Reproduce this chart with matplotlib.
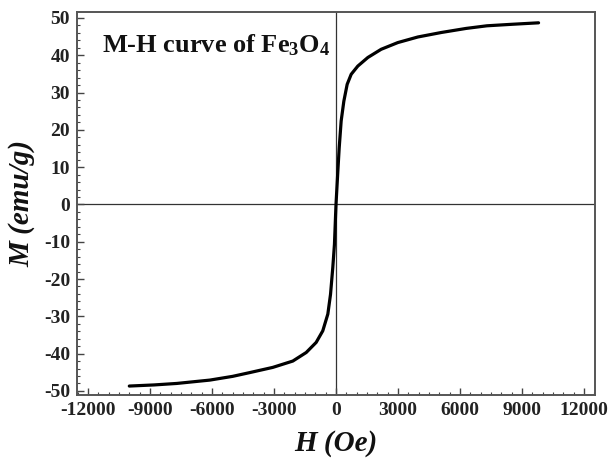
import matplotlib
matplotlib.use("Agg")
import matplotlib.pyplot as plt
from matplotlib.ticker import MultipleLocator

plt.rcParams['font.family'] = ['Liberation Serif', 'DejaVu Serif']
plt.rcParams['axes.unicode_minus'] = False
plt.rcParams['mathtext.fontset'] = 'custom'
plt.rcParams['mathtext.rm'] = 'Liberation Serif:bold'
plt.rcParams['mathtext.bf'] = 'Liberation Serif:bold'
plt.rcParams['mathtext.it'] = 'Liberation Serif:bold:italic'

# data
H = [-10000, -8800, -7700, -6100, -5000, -4180, -3060, -2090, -1440, -960, -640,
     -395, -265, -155, -75, -25, 0, 90, 155, 250, 380, 540, 735, 1055, 1540,
     2185, 2990, 3960, 5090, 6300, 7300, 8500, 9800]
M = [-48.7, -48.4, -48.0, -47.1, -46.1, -45.1, -43.7, -42.0, -39.7, -37.0, -33.9,
     -29.4, -24.1, -16.9, -10.7, -3.5, 0.0, 9.0, 15.2, 22.4, 27.7, 32.2, 34.9, 37.1, 39.4,
     41.6, 43.4, 44.9, 46.1, 47.2, 47.9, 48.3, 48.7]
x_ticks = [-12000, -9000, -6000, -3000, 0, 3000, 6000, 9000, 12000]
y_ticks = [-50, -40, -30, -20, -10, 0, 10, 20, 30, 40, 50]

fig = plt.figure(figsize=(6.14, 4.70), dpi=100)
ax = fig.add_axes([77/614, 1-395/470, (595-77)/614, (395-12)/470])

ax.axhline(0, color='#333333', lw=0.9, zorder=1)
ax.axvline(0, color='#333333', lw=0.9, zorder=1)
ax.plot(H, M, color='black', lw=2.3, zorder=3, solid_capstyle='round', solid_joinstyle='round')

ax.set_xlim(-12530, 12530)
ax.set_ylim(-51.1, 51.6)
ax.set_xticks(x_ticks)
ax.set_yticks(y_ticks)
ax.xaxis.set_minor_locator(MultipleLocator(500))
ax.yaxis.set_minor_locator(MultipleLocator(2))
ax.tick_params(which='both', direction='in', top=False, right=False, color='#444444')
ax.tick_params(which='major', length=5, width=1.0, labelsize=14, pad=5)
ax.tick_params(which='minor', length=2.5, width=0.8)
for lab in ax.get_xticklabels() + ax.get_yticklabels():
    lab.set_fontweight('bold')
    lab.set_color('#222222')
for s in ax.spines.values():
    s.set_linewidth(1.4)
    s.set_color('#555555')

ax.set_xlabel('H (Oe)', fontsize=21, fontweight='bold', fontstyle='italic', labelpad=8, color='#111111')
ax.set_ylabel('M (emu/g)', fontsize=21, fontweight='bold', fontstyle='italic', labelpad=6, color='#111111')

ax.text((102-77)/518, (395-52)/383, r'M-H curve of Fe$_\mathbf{3}$O$_\mathbf{4}$',
        transform=ax.transAxes, fontsize=19, fontweight='bold', ha='left', va='baseline', color='#111111')

fig.savefig('out.png', dpi=100)
